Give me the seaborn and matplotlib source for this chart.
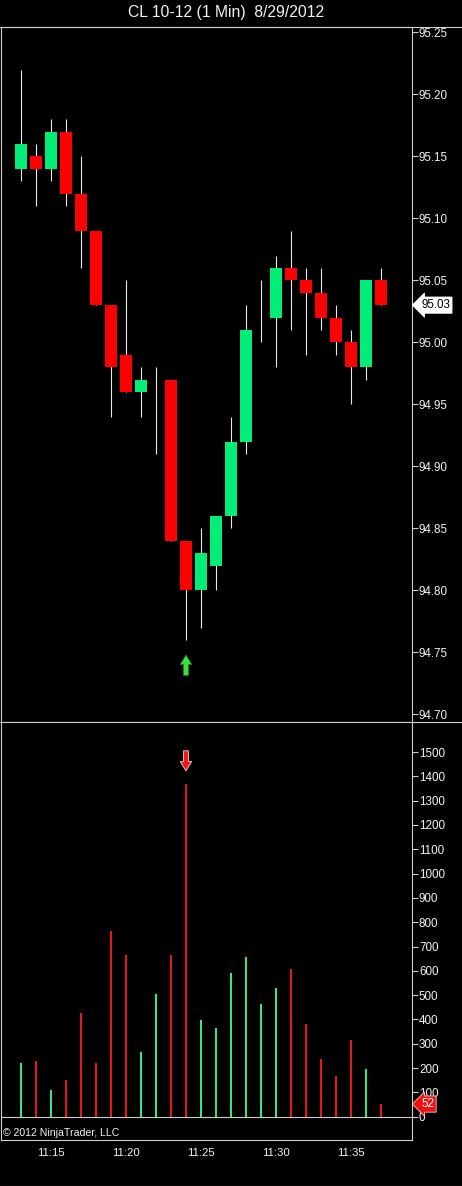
import numpy as np
import pandas as pd
import matplotlib
matplotlib.use("Agg")
import matplotlib.pyplot as plt
import matplotlib.transforms as mtransforms
from matplotlib.lines import Line2D
import seaborn as sns

# ---- 1-minute bars, CL 10-12, 8/29/2012 ----
minutes = ["11:13", "11:14", "11:15", "11:16", "11:17", "11:18", "11:19",
           "11:20", "11:21", "11:22", "11:23", "11:24", "11:25", "11:26",
           "11:27", "11:28", "11:29", "11:30", "11:31", "11:32", "11:33",
           "11:34", "11:35", "11:36", "11:37"]
opens = [95.14, 95.15, 95.14, 95.17, 95.12, 95.09, 95.03, 94.99, 94.96,
         94.96, 94.97, 94.84, 94.80, 94.82, 94.86, 94.92, 95.01, 95.02,
         95.06, 95.05, 95.04, 95.02, 95.00, 94.98, 95.05]
highs = [95.22, 95.16, 95.18, 95.18, 95.15, 95.09, 95.03, 95.05, 94.98,
         94.98, 94.97, 94.84, 94.85, 94.86, 94.94, 95.03, 95.05, 95.07,
         95.09, 95.06, 95.06, 95.03, 95.01, 95.05, 95.06]
lows = [95.13, 95.11, 95.13, 95.11, 95.06, 95.03, 94.94, 94.96, 94.94,
        94.91, 94.84, 94.76, 94.77, 94.80, 94.85, 94.91, 95.00, 94.98,
        95.01, 94.99, 95.01, 94.99, 94.95, 94.97, 95.03]
closes = [95.16, 95.14, 95.17, 95.12, 95.09, 95.03, 94.98, 94.96, 94.97,
          94.96, 94.84, 94.80, 94.83, 94.86, 94.92, 95.01, 95.01, 95.06,
          95.05, 95.04, 95.02, 95.00, 94.98, 95.05, 95.03]
volumes = [220, 230, 110, 150, 425, 220, 765, 665, 265, 505, 665, 1368,
           398, 366, 590, 657, 463, 530, 608, 383, 238, 168, 315, 197, 52]

title = "CL 10-12 (1 Min)  8/29/2012"
copyright_text = "\u00a9 2012 NinjaTrader, LLC"
price_ticks = [94.70, 94.75, 94.80, 94.85, 94.90, 94.95, 95.00, 95.05,
               95.10, 95.15, 95.20, 95.25]
volume_ticks = list(range(0, 1600, 100))

# ---- styling ----
UP = "#00ee78"
DOWN = "#ff0000"
VOL_UP = "#2fe88c"
VOL_DOWN = "#e8161c"
LINE = "#cfcfcf"
TXT = "#f2f2f2"

sns.set_theme(style="dark", rc={
    "axes.facecolor": "black",
    "figure.facecolor": "black",
    "axes.edgecolor": LINE,
    "axes.grid": False,
    "xtick.color": LINE,
    "ytick.color": LINE,
    "text.color": TXT,
})
plt.rcParams["font.family"] = ["Liberation Sans", "DejaVu Sans"]

W, H = 462, 1186
fig = plt.figure(figsize=(W / 100, H / 100), dpi=100, facecolor="black")


def fx(px):
    return px / W


def fy(py):
    return 1 - py / H


ax_p = fig.add_axes([fx(1), fy(722), fx(411), fy(27) - fy(722)])
ax_v = fig.add_axes([fx(1), fy(1140), fx(411), fy(722) - fy(1140)], sharex=ax_p)

pos = np.arange(len(minutes))
o = np.array(opens)
c = np.array(closes)
rising = c >= o

# ---- candles ----
ax_p.vlines(pos, lows, highs, color="#e8e8e8", lw=0.8, zorder=2)
ax_p.bar(pos, np.abs(c - o), bottom=np.minimum(o, c), width=0.8,
         color=[UP if r else DOWN for r in rising], linewidth=0, zorder=3)

ax_p.set_ylim(94.6938, 95.2543)
ax_p.set_xlim(-1.333, 26.07)
ax_p.yaxis.tick_right()
ax_p.set_yticks(price_ticks)
ax_p.set_yticklabels([f"{t:.2f}" for t in price_ticks])
ax_p.tick_params(axis="y", direction="out", length=4, width=0.8, pad=1,
                 labelsize=8.4, labelcolor=TXT, color=LINE)
ax_p.tick_params(axis="x", bottom=False, labelbottom=False)
for s in ax_p.spines.values():
    s.set_color(LINE)
    s.set_linewidth(0.8)

# ---- volume ----
vol_df = pd.DataFrame({
    "pos": pos,
    "volume": volumes,
    "side": np.where(rising, "up", "down"),
})
sns.barplot(data=vol_df, x="pos", y="volume", hue="side", native_scale=True,
            palette={"up": VOL_UP, "down": VOL_DOWN}, width=0.14, dodge=False,
            saturation=1, linewidth=0, legend=False, ax=ax_v)
ax_v.axhline(0, color=LINE, lw=0.8, zorder=1)
ax_v.set_ylim(-95.8, 1623.6)
ax_v.set_xlim(-1.333, 26.07)
ax_v.set_xlabel("")
ax_v.set_ylabel("")
ax_v.yaxis.tick_right()
ax_v.set_yticks(volume_ticks)
ax_v.set_yticklabels([str(t) for t in volume_ticks])
ax_v.tick_params(axis="y", direction="out", length=4, width=0.8, pad=1,
                 labelsize=8.4, labelcolor=TXT, color=LINE)

time_idx = [i for i, m in enumerate(minutes) if int(m[-1]) % 5 == 0]
ax_v.set_xticks(time_idx)
ax_v.set_xticklabels([minutes[i] for i in time_idx])
ax_v.tick_params(axis="x", direction="out", length=4.3, width=0.8, pad=1.5,
                 labelsize=8.2, labelcolor=TXT, color=LINE)
for s in ax_v.spines.values():
    s.set_color(LINE)
    s.set_linewidth(0.8)
ax_v.spines["top"].set_visible(False)

# ---- signal arrows on the wash-out bar ----
sig = int(np.argmax(volumes))
ax_p.annotate("", xy=(sig, lows[sig]), xytext=(0, -25.5),
              textcoords="offset points",
              arrowprops=dict(arrowstyle="simple,head_length=0.6,head_width=0.75,tail_width=0.32",
                              fc="#3ee03e", ec="#1a8a1a", lw=0.6,
                              mutation_scale=11, shrinkA=0, shrinkB=11))
ax_v.annotate("", xy=(sig, volumes[sig]), xytext=(0, 24),
              textcoords="offset points",
              arrowprops=dict(arrowstyle="simple,head_length=0.6,head_width=0.75,tail_width=0.32",
                              fc="#f01818", ec="#f4d0d0", lw=0.6,
                              mutation_scale=11, shrinkA=0, shrinkB=9.6))

# ---- last-value markers on the axis ----
tp = mtransforms.blended_transform_factory(ax_p.transAxes, ax_p.transData)
ax_p.text(1.022, closes[-1], f"{closes[-1]:.2f}", transform=tp, ha="left",
          va="center", fontsize=8.4, color="black", clip_on=False,
          bbox=dict(boxstyle="larrow,pad=0.18", fc="white", ec="white", lw=0.6))
tv = mtransforms.blended_transform_factory(ax_v.transAxes, ax_v.transData)
ax_v.text(1.022, volumes[-1], str(volumes[-1]), transform=tv, ha="left",
          va="center", fontsize=8.4, color="white", clip_on=False,
          bbox=dict(boxstyle="larrow,pad=0.18", fc="#ee1111", ec="#f3c8c8", lw=0.6))

# ---- frame lines, title, copyright ----
for py in (27, 722):
    fig.add_artist(Line2D([0, 1], [fy(py), fy(py)], color=LINE, lw=0.8))
fig.add_artist(Line2D([0, 1], [fy(1185.5), fy(1185.5)], color="#bdbdbd", lw=0.8))
fig.text(226 / W, fy(13), title, ha="center", va="center", fontsize=11.3,
         color=TXT)
fig.text(fx(3), fy(1133), copyright_text, ha="left", va="center",
         fontsize=7.6, color=TXT)

fig.savefig("out.png", dpi=100, facecolor="black")
